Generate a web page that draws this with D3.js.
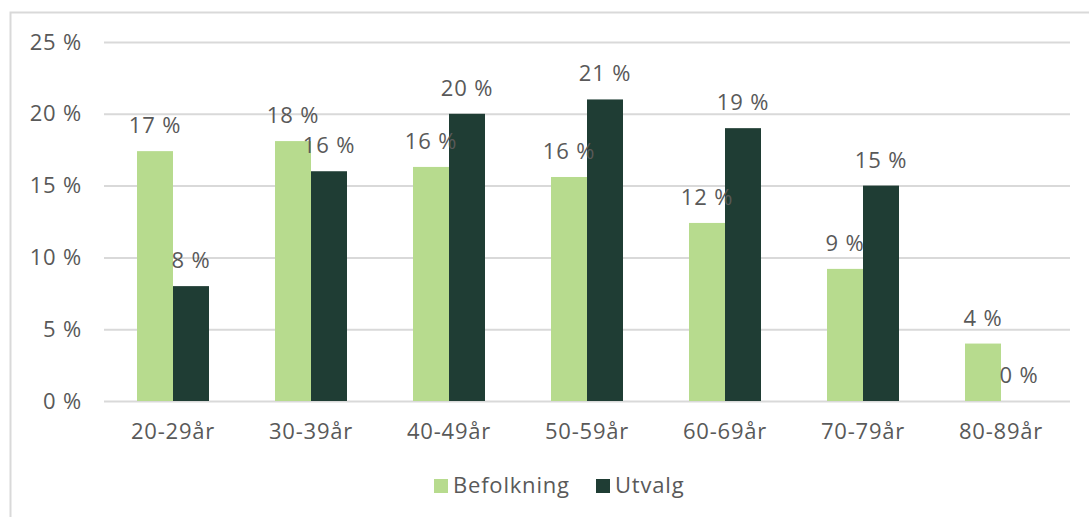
<!DOCTYPE html>
<html>
<head>
<meta charset="utf-8">
<script src="https://cdn.jsdelivr.net/npm/d3@7"></script>
<style>
  html, body { margin: 0; padding: 0; background: #fff; }
  svg { display: block; }
  text { font-family: "Open Sans", "Noto Sans", sans-serif; fill: #595959; letter-spacing: 0.8px; }
</style>
</head>
<body>
<svg id="chart" width="1089" height="517"></svg>
<script>
// Age groups and share of population vs. sample (percent)
const categories = ["20-29år", "30-39år", "40-49år", "50-59år", "60-69år", "70-79år", "80-89år"];
const befolkning = [17.4, 18.1, 16.3, 15.6, 12.4, 9.2, 4.0];
const utvalg = [8.0, 16.0, 20.0, 21.0, 19.0, 15.0, 0.0];
const seriesNames = ["Befolkning", "Utvalg"];
const seriesColors = ["#b7db8e", "#1f3d34"];
const yTicks = [0, 5, 10, 15, 20, 25];

const svg = d3.select("#chart");
const W = 1089, H = 517;
const FS = 22;

// Outer chart frame
svg.append("rect")
  .attr("x", 10.5).attr("y", 12.5)
  .attr("width", W + 20).attr("height", H + 20)
  .attr("fill", "none").attr("stroke", "#d9d9d9").attr("stroke-width", 2);

const plot = { left: 104, right: 1070, top: 42, bottom: 401 };

const x = d3.scaleBand().domain(categories).range([plot.left, plot.right]).paddingInner(0).paddingOuter(0);
const inner = d3.scaleBand().domain(seriesNames).range([0, x.bandwidth()]).paddingInner(0).paddingOuter(0.917);
const y = d3.scaleLinear().domain([0, 25]).range([plot.bottom, plot.top]);

// Gridlines + y tick labels
const yAxis = d3.axisLeft(y).tickValues(yTicks).tickSize(-(plot.right - plot.left)).tickPadding(22)
  .tickFormat(d => d + " %");
const gy = svg.append("g").attr("transform", `translate(${plot.left},0)`).call(yAxis);
gy.select(".domain").remove();
gy.selectAll(".tick line").attr("stroke", "#d9d9d9").attr("stroke-width", 2);
gy.selectAll(".tick text").attr("font-size", FS).attr("fill", "#595959");

// X axis labels
const xAxis = d3.axisBottom(x).tickSize(0).tickPadding(22);
const gx = svg.append("g").attr("transform", `translate(0,${plot.bottom})`).call(xAxis);
gx.select(".domain").remove();
gx.selectAll(".tick text").attr("font-size", FS).attr("fill", "#595959");

const rows = categories.map((c, i) => ({ cat: c, vals: [befolkning[i], utvalg[i]] }));

const groups = svg.append("g").selectAll("g").data(rows).join("g")
  .attr("transform", d => `translate(${x(d.cat)},0)`);

groups.selectAll("rect").data(d => d.vals.map((v, j) => ({ v, s: seriesNames[j], j })))
  .join("rect")
  .attr("x", d => inner(d.s))
  .attr("y", d => y(d.v))
  .attr("width", inner.bandwidth())
  .attr("height", d => y(0) - y(d.v))
  .attr("fill", d => seriesColors[d.j]);

groups.selectAll("text.lbl").data(d => d.vals.map((v, j) => ({ v, s: seriesNames[j], j })))
  .join("text")
  .attr("class", "lbl")
  .attr("x", d => inner(d.s) + inner.bandwidth() / 2)
  .attr("y", d => y(d.v) - 18)
  .attr("text-anchor", "middle")
  .attr("font-size", FS)
  .text(d => Math.round(d.v) + " %");

// Legend
const legend = svg.append("g");
const legendItems = [
  { name: seriesNames[0], color: seriesColors[0], x: 434 },
  { name: seriesNames[1], color: seriesColors[1], x: 596 }
];
legendItems.forEach(it => {
  legend.append("rect").attr("x", it.x).attr("y", 479).attr("width", 14).attr("height", 14).attr("fill", it.color);
  legend.append("text").attr("x", it.x + 19).attr("y", 493).attr("font-size", FS).text(it.name);
});
</script>
</body>
</html>
